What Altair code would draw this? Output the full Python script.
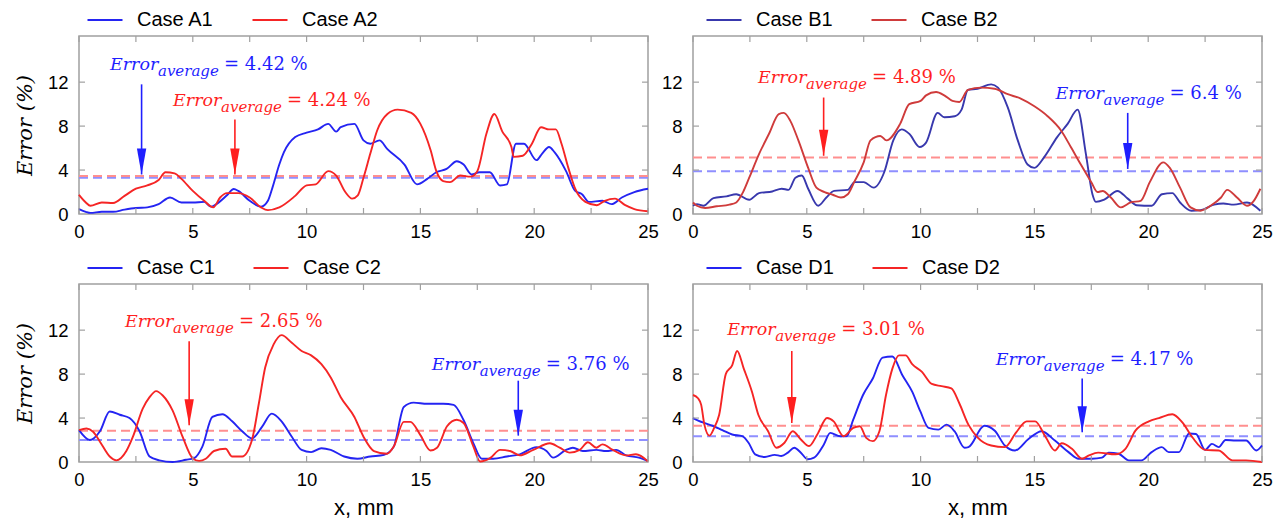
import altair as alt
import pandas as pd

# ---------------- data ----------------
A1_x = [0, 0.3, 0.5, 1, 1.5, 2, 2.5, 3, 3.5, 4,
        4.5, 5, 5.5, 5.8, 6, 6.5, 6.8, 7, 7.5, 8,
        8.3, 8.5, 8.8, 9, 9.5, 10, 10.5, 10.95, 11.3, 11.5,
        12.1, 12.5, 12.8, 13.2, 13.55, 14.3, 14.85, 15.3, 15.7, 16.15,
        16.6, 16.9, 17.25, 17.6, 18.05, 18.5, 18.8, 19.2, 19.55, 20.1,
        20.35, 20.65, 20.9, 21.4, 21.8, 22.1, 22.4, 23.0, 23.4, 23.85,
        24.4, 25]
A1_y = [0.45, 0.2, 0.1, 0.2, 0.2, 0.4, 0.55, 0.6, 0.9, 1.5,
        1.05, 1.05, 1.1, 0.67, 0.85, 1.7, 2.27, 2.1, 1.2, 0.67,
        1.2, 2.4, 4.5, 5.6, 7.0, 7.4, 7.7, 8.2, 7.5, 7.9,
        8.2, 6.7, 6.4, 6.7, 5.9, 4.5, 2.7, 3.2, 3.8, 4.1,
        4.8, 4.5, 3.6, 3.8, 3.8, 2.6, 2.7, 6.4, 6.4, 4.9,
        5.5, 6.1, 5.6, 3.9, 2.1, 1.8, 1.1, 1.2, 0.9, 1.5,
        2.0, 2.3]
A2_x = [0, 0.3, 0.5, 1, 1.5, 2, 2.5, 3, 3.5, 3.8,
        4.2, 4.5, 5, 5.5, 5.9, 6.2, 6.5, 7, 7.5, 8,
        8.3, 8.8, 9.5, 10, 10.4, 10.95, 11.3, 11.7, 12.0, 12.25,
        12.5, 12.8, 13.1, 13.55, 14.0, 14.6, 15.0, 15.45, 15.7, 16.0,
        16.3, 16.75, 17.2, 17.5, 17.9, 18.25, 18.6, 19.0, 19.1, 19.5,
        19.9, 20.3, 20.65, 20.95, 21.2, 21.5, 21.8, 22.25, 22.75, 23.1,
        23.55, 24.0, 24.4, 25]
A2_y = [1.75, 1.05, 0.75, 1.05, 1.0, 1.65, 2.3, 2.6, 3.1, 3.8,
        3.7, 3.2, 2.1, 1.2, 0.6, 1.5, 1.9, 1.9, 1.5, 0.6,
        0.35, 0.6, 1.65, 2.6, 2.7, 3.9, 3.5, 2.0, 1.4, 1.7,
        3.3, 5.5, 7.6, 9.1, 9.5, 9.2, 8.2, 5.8, 3.9, 3.0,
        2.9, 3.5, 3.4, 3.9, 7.3, 9.1, 7.5, 6.1, 5.2, 5.3,
        6.4, 7.9, 7.7, 7.7, 6.4, 4.2, 2.3, 1.1, 0.8, 1.2,
        1.4, 0.8, 0.45, 0.25]

B1_x = [0, 0.17, 0.46, 0.9, 1.47, 1.9, 2.47, 2.9, 3.48, 3.9,
        4.2, 4.5, 4.78, 5.06, 5.5, 5.86, 6.2, 6.8, 7.1, 7.5,
        7.94, 8.4, 8.8, 9.17, 9.5, 9.96, 10.24, 10.75, 11.04, 11.5,
        11.8, 12.08, 12.5, 13.1, 13.4, 13.83, 14.27, 14.7, 15.0, 15.44,
        16.0, 16.46, 16.9, 17.26, 17.55, 17.7, 18.07, 18.65, 19.1, 19.5,
        20.15, 20.6, 21.06, 21.4, 21.9, 22.3, 22.9, 23.3, 23.76, 24.34,
        24.93]
B1_y = [0.75, 0.9, 0.75, 1.45, 1.6, 1.8, 1.3, 1.9, 2.05, 2.3,
        2.2, 3.3, 3.5, 2.3, 0.75, 1.5, 2.1, 2.2, 2.9, 2.9,
        2.4, 3.8, 6.7, 7.7, 7.3, 6.1, 6.5, 9.2, 8.8, 8.9,
        9.5, 11.3, 11.4, 11.8, 11.5, 9.7, 6.7, 4.5, 4.2, 5.2,
        7.0, 8.2, 9.5, 5.5, 1.8, 1.1, 1.3, 2.1, 1.4, 0.8,
        0.75, 1.8, 1.9, 1.05, 0.3, 0.35, 0.85, 0.95, 0.85, 1.05,
        0.3]
B2_x = [0, 0.17, 0.53, 1.04, 1.6, 1.9, 2.19, 2.47, 2.9, 3.34,
        3.77, 3.99, 4.27, 4.63, 5.06, 5.42, 5.78, 6.14, 6.5, 6.8,
        7.08, 7.5, 7.8, 8.23, 8.5, 9.1, 9.5, 10.0, 10.24, 10.68,
        11.04, 11.4, 11.7, 12.08, 12.66, 13.25, 13.83, 14.4, 15.0, 15.58,
        16.17, 16.6, 17.04, 17.5, 17.77, 18.0, 18.36, 18.8, 19.23, 19.67,
        20.07, 20.66, 20.95, 21.4, 21.86, 22.3, 22.74, 23.2, 23.47, 23.9,
        24.34, 24.64, 24.93]
B2_y = [1.05, 0.75, 0.55, 0.7, 0.85, 1.05, 1.95, 3.3, 5.45, 7.3,
        9.1, 9.2, 8.5, 6.7, 4.2, 2.4, 2.0, 1.75, 1.5, 1.8,
        2.9, 4.7, 6.7, 7.1, 6.7, 8.2, 10.0, 10.3, 10.8, 11.1,
        10.8, 10.3, 10.2, 11.3, 11.5, 11.4, 10.9, 10.5, 9.8, 8.9,
        7.6, 6.1, 4.5, 2.9, 2.0, 2.1, 1.5, 0.6, 1.05, 1.2,
        2.9, 4.7, 4.2, 2.4, 0.6, 0.3, 0.75, 1.5, 2.2, 1.5,
        0.75, 1.2, 2.3]

C1_x = [0, 0.48, 0.92, 1.35, 1.79, 2.22, 2.66, 3.1, 3.53, 4.11,
        4.7, 5.06, 5.42, 5.86, 6.3, 6.73, 7.17, 7.6, 8.04, 8.47,
        8.9, 9.35, 9.78, 10.2, 10.65, 11.06, 11.65, 12.23, 12.8, 13.4,
        13.83, 14.27, 14.7, 15.3, 16.0, 16.46, 16.9, 17.33, 17.7, 18.2,
        18.8, 19.37, 20.1, 20.54, 20.83, 21.4, 21.7, 22.14, 22.73, 23.16,
        23.6, 24.04, 24.6, 25]
C1_y = [2.9, 2.0, 2.8, 4.6, 4.3, 4.0, 2.8, 0.5, 0.15, 0.0,
        0.2, 0.35, 1.4, 4.1, 4.35, 3.7, 2.8, 2.15, 3.2, 4.4,
        3.7, 2.3, 1.1, 0.9, 1.25, 1.1, 0.5, 0.3, 0.5, 0.65,
        1.4, 5.0, 5.4, 5.3, 5.3, 5.2, 3.8, 1.7, 0.3, 0.3,
        0.5, 0.7, 1.35, 1.0, 0.4, 1.1, 1.3, 1.0, 1.1, 1.0,
        1.1, 0.6, 0.4, 0.1]
C2_x = [0, 0.33, 0.62, 0.92, 1.35, 1.64, 2.08, 2.37, 2.8, 3.1,
        3.39, 3.68, 4.11, 4.55, 4.99, 5.28, 5.57, 5.93, 6.44, 6.73,
        7.17, 7.6, 7.9, 8.18, 8.55, 8.9, 9.35, 9.78, 10.2, 10.65,
        11.06, 11.5, 12.1, 12.5, 12.96, 13.54, 13.83, 14.27, 14.56, 15.0,
        15.44, 15.73, 16.17, 16.6, 16.9, 17.33, 17.62, 18.06, 18.5, 18.94,
        19.37, 19.96, 20.69, 21.12, 21.56, 22.0, 22.36, 22.73, 23.0, 23.45,
        24.04, 24.47, 25]
C2_y = [2.9, 3.05, 2.75, 1.85, 0.5, 0.15, 1.0, 2.3, 4.85, 5.9,
        6.45, 6.05, 4.7, 2.3, 0.35, 0.1, 0.3, 1.0, 1.2, 0.5,
        0.5, 2.0, 5.3, 8.6, 10.7, 11.55, 10.85, 10.1, 9.7, 8.9,
        7.7, 5.9, 4.1, 2.3, 1.0, 0.75, 1.4, 3.65, 3.65, 2.45,
        1.05, 1.3, 3.25, 3.85, 3.55, 1.4, 0.05, 0.35, 1.1, 1.0,
        0.6, 1.1, 1.7, 1.3, 0.85, 1.1, 1.8, 1.3, 1.6, 1.1,
        0.6, 0.7, 0.05]

D1_x = [0, 0.43, 0.86, 1.29, 1.72, 2.16, 2.44, 2.73, 3.16, 3.59,
        3.88, 4.17, 4.45, 4.74, 5.03, 5.32, 5.75, 6.03, 6.47, 6.75,
        7.04, 7.47, 7.9, 8.33, 8.76, 9.2, 9.63, 9.99, 10.35, 10.78,
        11.14, 11.49, 11.93, 12.1, 12.8, 13.26, 13.7, 14.15, 14.74, 15.32,
        15.9, 16.5, 16.94, 17.53, 17.97, 18.26, 18.7, 19.15, 19.7, 20.15,
        20.6, 20.9, 21.35, 21.8, 22.1, 22.5, 22.8, 23.1, 23.4, 23.85,
        24.3, 24.75, 25]
D1_y = [4.0, 3.6, 3.3, 2.9, 2.5, 2.35, 1.75, 0.7, 0.45, 0.65,
        0.55, 0.85, 1.3, 0.85, 0.25, 0.4, 1.6, 2.65, 2.35, 2.35,
        3.85, 6.1, 7.6, 9.5, 9.6, 7.9, 6.4, 4.6, 3.1, 2.95,
        3.4, 2.8, 1.3, 1.35, 3.3, 2.85, 1.5, 1.05, 2.1, 2.8,
        1.95, 0.9, 0.3, 0.3, 0.4, 0.85, 0.75, 0.15, 0.15, 0.9,
        1.35, 0.9, 0.9, 2.6, 2.55, 1.1, 1.65, 1.35, 2.0, 1.95,
        1.95, 1.05, 1.5]
D2_x = [0, 0.22, 0.36, 0.5, 0.72, 0.93, 1.15, 1.44, 1.72, 1.94,
        2.23, 2.59, 2.87, 3.3, 3.66, 4.02, 4.38, 4.74, 5.1, 5.46,
        5.89, 6.18, 6.61, 7.04, 7.33, 7.61, 7.9, 8.19, 8.48, 8.76,
        9.05, 9.34, 9.63, 10.06, 10.49, 10.92, 11.35, 11.7, 12.1, 12.5,
        13.1, 13.7, 14.2, 14.66, 15.03, 15.5, 15.9, 16.2, 16.65, 17.1,
        17.4, 17.8, 18.56, 19.0, 19.44, 20.03, 20.47, 21.06, 21.5, 21.94,
        22.5, 23.1, 23.7, 24.3, 25]
D2_y = [6.1, 5.8, 5.2, 3.4, 2.4, 3.1, 4.3, 8.0, 8.8, 10.1,
        8.5, 6.4, 4.3, 2.8, 1.3, 1.75, 2.8, 2.05, 1.45, 2.5,
        4.0, 3.7, 2.35, 3.1, 3.25, 2.2, 1.9, 2.8, 6.1, 8.5,
        9.7, 9.7, 8.9, 8.2, 7.1, 6.9, 6.7, 5.35, 3.4, 2.25,
        1.5, 1.35, 2.7, 3.7, 3.7, 2.25, 1.05, 1.7, 1.2, 0.3,
        0.6, 0.85, 0.7, 1.2, 2.85, 3.7, 4.0, 4.35, 3.6, 2.25,
        1.1, 1.05, 0.15, 0.15, 0.0]

# average (dashed) levels: [blue, red]
AVG_A = [3.3, 3.45]
AVG_B = [3.9, 5.15]
AVG_C = [2.0, 2.85]
AVG_D = [2.35, 3.3]

# annotations: (which, label value, text x, text y, arrow x, arrow top, arrow tip)
ANN_A = [("b", "4.42 %", 1.36, 13.6, 2.75, 11.8, 3.6),
         ("r", "4.24 %", 4.13, 10.3, 6.85, 8.6, 3.6)]
ANN_B = [("r", "4.89 %", 2.86, 12.4, 5.74, 10.6, 5.3),
         ("b", "6.4 %", 15.93, 10.9, 19.1, 9.2, 4.1)]
ANN_C = [("r", "2.65 %", 2.02, 12.75, 4.84, 11.0, 3.35),
         ("b", "3.76 %", 15.5, 8.8, 19.3, 7.4, 2.4)]
ANN_D = [("r", "3.01 %", 1.5, 12.0, 4.34, 10.1, 3.55),
         ("b", "4.17 %", 13.3, 9.3, 17.1, 7.6, 2.7)]

X_TICKS = [0, 2.5, 5, 7.5, 10, 12.5, 15, 17.5, 20, 22.5, 25]
X_LABELS = [0, 5, 10, 15, 20, 25]
Y_TICKS = [4, 8, 12]
Y_LABELS = [0, 4, 8, 12]

# ---------------- styling ----------------
W, H = 569, 178
XS = alt.Scale(domain=[0, 25], nice=False, zero=False)
YS = alt.Scale(domain=[0, 16.2], nice=False, zero=False)
FRAME = "#a0a0a0"
TXT = {"b": "#1f1fff", "r": "#ff1f1f"}
DASH = {"b": "#8f8fff", "r": "#ff8f8f"}
BRIGHT = ["#2424f2", "#f52525"]
MUTED = ["#3838ad", "#cf3b3b"]


def panel(names, bx, by, rx, ry, avg, ann, line_colors, legend_x, ytitle, xtitle):
    xaxis = alt.Axis(values=X_LABELS, title=xtitle, labelPadding=8, labelFlush=False,
                     titleFont="Liberation Sans", titleFontSize=22,
                     titleFontWeight="normal", titlePadding=9, titleColor="black")
    yaxis = alt.Axis(values=Y_LABELS, title=ytitle, labelPadding=11, labelFlush=False,
                     titleFont="DejaVu Serif", titleFontStyle="italic",
                     titleFontSize=21, titleFontWeight="normal",
                     titlePadding=12, titleColor="black")
    X = lambda f: alt.X(f, scale=XS, axis=xaxis)
    Y = lambda f: alt.Y(f, scale=YS, axis=yaxis)

    layers = []
    # dashed averages
    for k, v in zip(["b", "r"], avg):
        layers.append(
            alt.Chart(pd.DataFrame({"v": [v]}))
            .mark_rule(color=DASH[k], strokeDash=[9, 5], strokeWidth=2)
            .encode(y=Y("v:Q"))
        )
    # lines
    df = pd.concat([
        pd.DataFrame({"x": bx, "y": by, "series": names[0]}),
        pd.DataFrame({"x": rx, "y": ry, "series": names[1]}),
    ])
    layers.append(
        alt.Chart(df).mark_line(strokeWidth=1.9, interpolate="monotone").encode(
            x=X("x:Q"), y=Y("y:Q"),
            color=alt.Color("series:N",
                            scale=alt.Scale(domain=names, range=line_colors),
                            legend=alt.Legend(orient="none", legendX=legend_x, legendY=-35,
                                              direction="horizontal", title=None,
                                              symbolType="stroke", symbolSize=1225,
                                              symbolStrokeWidth=2.2, labelFontSize=20,
                                              labelFont="Liberation Sans", labelColor="black",
                                              labelOffset=13, columnPadding=34, padding=0)),
        )
    )
    # annotations
    for k, val, tx, ty, ax, atop, atip in ann:
        c = TXT[k]
        adf = pd.DataFrame({"x": [ax], "top": [atop], "tip": [atip]})
        layers.append(alt.Chart(adf).mark_rule(color=c, strokeWidth=1.6)
                      .encode(x=X("x:Q"), y=Y("top:Q"), y2="tip:Q"))
        layers.append(alt.Chart(adf).mark_point(shape="M-0.36,-1L0.36,-1L0,1Z", filled=True,
                                                 opacity=1, color=c, size=676, yOffset=-13)
                      .encode(x=X("x:Q"), y=Y("tip:Q")))
        tdf = pd.DataFrame({"x": [tx], "y": [ty]})
        layers.append(alt.Chart(tdf).mark_text(text="Error", align="left", baseline="middle",
                                               font="DejaVu Serif", fontStyle="italic",
                                               fontSize=17.5, color=c)
                      .encode(x=X("x:Q"), y=Y("y:Q")))
        layers.append(alt.Chart(tdf).mark_text(text="average", align="left", baseline="middle",
                                               font="DejaVu Serif", fontStyle="italic",
                                               fontSize=15, color=c, dx=48, dy=6)
                      .encode(x=X("x:Q"), y=Y("y:Q")))
        layers.append(alt.Chart(tdf).mark_text(text="= " + val, align="left", baseline="middle",
                                               font="DejaVu Serif", fontSize=18, color=c,
                                               dx=114)
                      .encode(x=X("x:Q"), y=Y("y:Q")))
    # inward ticks
    xt = pd.DataFrame({"t": X_TICKS})
    yt = pd.DataFrame({"t": Y_TICKS})
    layers.append(alt.Chart(xt).mark_rule(color=FRAME, strokeWidth=1.2)
                  .encode(x=X("t:Q"), y=alt.value(H), y2=alt.value(H - 6)))
    layers.append(alt.Chart(xt).mark_rule(color=FRAME, strokeWidth=1.2)
                  .encode(x=X("t:Q"), y=alt.value(0), y2=alt.value(6)))
    layers.append(alt.Chart(yt).mark_rule(color=FRAME, strokeWidth=1.2)
                  .encode(y=Y("t:Q"), x=alt.value(0), x2=alt.value(6)))
    layers.append(alt.Chart(yt).mark_rule(color=FRAME, strokeWidth=1.2)
                  .encode(y=Y("t:Q"), x=alt.value(W - 6), x2=alt.value(W)))

    return alt.layer(*layers).properties(width=W, height=H)


pA = panel(["Case A1", "Case A2"], A1_x, A1_y, A2_x, A2_y, AVG_A, ANN_A, BRIGHT, 7, "Error (%)", None)
pB = panel(["Case B1", "Case B2"], B1_x, B1_y, B2_x, B2_y, AVG_B, ANN_B, MUTED, 12, None, None)
pC = panel(["Case C1", "Case C2"], C1_x, C1_y, C2_x, C2_y, AVG_C, ANN_C, BRIGHT, 7, "Error (%)", "x, mm")
pD = panel(["Case D1", "Case D2"], D1_x, D1_y, D2_x, D2_y, AVG_D, ANN_D, BRIGHT, 12, None, "x, mm")

chart = (
    alt.concat(pA, pB, pC, pD, columns=2, spacing={"row": 70, "column": 45}, bounds="flush")
    .resolve_scale(color="independent")
    .properties(padding={"left": 13, "top": 0, "right": 5, "bottom": 5})
    .configure_view(stroke=FRAME, strokeWidth=1.5)
    .configure_axis(labelFont="Liberation Sans", labelFontSize=18.5, labelColor="black",
                    domain=False, ticks=False, grid=False)
)

chart.save("out.html", embed_options={"renderer": "svg", "actions": False})
